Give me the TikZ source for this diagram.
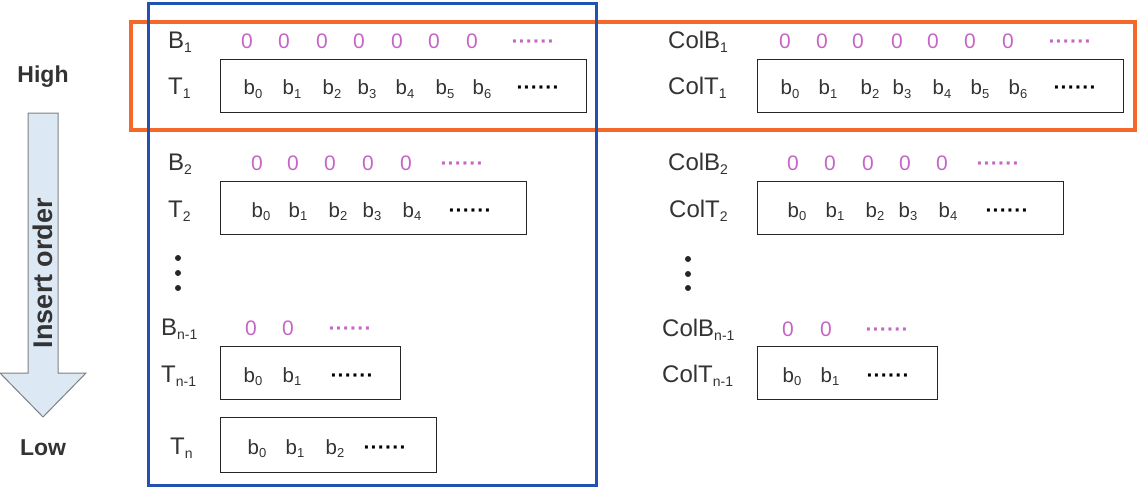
\documentclass[tikz,border=0pt]{standalone}
\usepackage{fontspec}
\setmainfont{Liberation Sans}
\definecolor{txt}{HTML}{333333}
\definecolor{zpink}{HTML}{C565C5}
\definecolor{bluebox}{HTML}{2351B0}
\definecolor{orangebox}{HTML}{F5682A}
\definecolor{arrowfill}{HTML}{DDE8F5}
\definecolor{arrowline}{HTML}{808080}
\newcommand\lsub[1]{\raisebox{-4pt}{\fontsize{14}{14}\selectfont #1}}
\newcommand\bsub[1]{\raisebox{-3.5pt}{\fontsize{13}{13}\selectfont #1}}
\newcommand\onedot{\makebox[7.2pt]{·}}
\newcommand\sixdots{\onedot\onedot\onedot\onedot\onedot\onedot}
\tikzset{
  lbl/.style={anchor=base west, inner sep=0pt, text=txt, font=\fontsize{24}{28}\selectfont},
  zero/.style={anchor=base, inner sep=0pt, text=zpink, font=\fontsize{21}{25}\selectfont},
  bit/.style={anchor=base, inner sep=0pt, text=txt, font=\fontsize{20.5}{24}\selectfont},
  pdots/.style={anchor=base, inner sep=0pt, text=zpink, font=\bfseries\fontsize{21}{25}\selectfont},
  tdots/.style={anchor=base, inner sep=0pt, text=black, font=\bfseries\fontsize{21}{25}\selectfont},
  cell/.style={draw=black!85, line width=1.3pt, anchor=north west, inner sep=0pt},
  hilabel/.style={inner sep=0pt, text=txt, font=\bfseries\fontsize{23}{27}\selectfont},
}
\begin{document}
\begin{tikzpicture}[x=1pt,y=-1pt]
\useasboundingbox (0,0) rectangle (1141,487);
% arrow
\draw[fill=arrowfill, draw=arrowline, line width=1pt]
  (28,113) -- (58,113) -- (58,373) -- (86,373) -- (43,417) -- (0,373) -- (28,373) -- cycle;
\node[hilabel] (high) at (43,77) {High};
\node[hilabel] (low) at (43,448) {Low};
\node[hilabel, rotate=90, font=\bfseries\fontsize{27}{30}\selectfont] (ins) at (43,273) {Insert order};

% ---- left column
\node[lbl] (B1) at (168,49) {B\lsub{1}};
\foreach \x [count=\i] in {247,284,322,359,397,434,472} \node[zero] (lz1\i) at (\x,49) {0};
\node[pdots] (lzd1) at (533,49) {\sixdots};
\node[lbl] (T1) at (168,95) {T\lsub{1}};
\node[cell, minimum width=366pt, minimum height=53pt] (T1box) at (220,59) {};
\foreach \x/\s [count=\i] in {253/0,292/1,332/2,367/3,405/4,445/5,482/6} \node[bit] (lb1\i) at (\x,95) {b\bsub{\s}};
\node[tdots] (lbd1) at (538,95) {\sixdots};

\node[lbl] (B2) at (168,170) {B\lsub{2}};
\foreach \x [count=\i] in {257,293,330,368,406} \node[zero] (lz2\i) at (\x,170) {0};
\node[pdots] (lzd2) at (462,170) {\sixdots};
\node[lbl] (T2) at (168,217) {T\lsub{2}};
\node[cell, minimum width=306pt, minimum height=53pt] (T2box) at (220,181) {};
\foreach \x/\s [count=\i] in {261/0,298/1,338/2,372/3,412/4} \node[bit] (lb2\i) at (\x,217) {b\bsub{\s}};
\node[tdots] (lbd2) at (470,217) {\sixdots};

\foreach \y in {258,273,288} \fill[black!85] (178,\y) circle (3pt);

\node[lbl] (Bn1) at (161,335) {B\lsub{n-1}};
\foreach \x [count=\i] in {251,288} \node[zero] (lz3\i) at (\x,335) {0};
\node[pdots] (lzd3) at (350,335) {\sixdots};
\node[lbl] (Tn1) at (161,382) {T\lsub{n-1}};
\node[cell, minimum width=180pt, minimum height=53pt] (Tn1box) at (220,346) {};
\foreach \x/\s [count=\i] in {253/0,292/1} \node[bit] (lb3\i) at (\x,382) {b\bsub{\s}};
\node[tdots] (lbd3) at (352,382) {\sixdots};

\node[lbl] (Tn) at (170,454) {T\lsub{n}};
\node[cell, minimum width=216pt, minimum height=55pt] (Tnbox) at (220,417) {};
\foreach \x/\s [count=\i] in {257/0,295/1,335/2} \node[bit] (lb4\i) at (\x,454) {b\bsub{\s}};
\node[tdots] (lbd4) at (385,454) {\sixdots};

% ---- right column
\node[lbl] (CB1) at (668,49) {ColB\lsub{1}};
\foreach \x [count=\i] in {785,822,858,897,933,970,1008} \node[zero] (rz1\i) at (\x,49) {0};
\node[pdots] (rzd1) at (1070,49) {\sixdots};
\node[lbl] (CT1) at (668,95) {ColT\lsub{1}};
\node[cell, minimum width=366pt, minimum height=53pt] (CT1box) at (757,59) {};
\foreach \x/\s [count=\i] in {790/0,828/1,870/2,902/3,942/4,980/5,1018/6} \node[bit] (rb1\i) at (\x,95) {b\bsub{\s}};
\node[tdots] (rbd1) at (1075,95) {\sixdots};

\node[lbl] (CB2) at (668,170) {ColB\lsub{2}};
\foreach \x [count=\i] in {793,830,868,905,942} \node[zero] (rz2\i) at (\x,170) {0};
\node[pdots] (rzd2) at (998,170) {\sixdots};
\node[lbl] (CT2) at (669,217) {ColT\lsub{2}};
\node[cell, minimum width=306pt, minimum height=53pt] (CT2box) at (757,181) {};
\foreach \x/\s [count=\i] in {797/0,835/1,875/2,908/3,948/4} \node[bit] (rb2\i) at (\x,217) {b\bsub{\s}};
\node[tdots] (rbd2) at (1007,217) {\sixdots};

\foreach \y in {259,274,288} \fill[black!85] (688,\y) circle (3pt);

\node[lbl] (CBn1) at (662,336) {ColB\lsub{n-1}};
\foreach \x [count=\i] in {788,826} \node[zero] (rz3\i) at (\x,336) {0};
\node[pdots] (rzd3) at (887,336) {\sixdots};
\node[lbl] (CTn1) at (662,382) {ColT\lsub{n-1}};
\node[cell, minimum width=180pt, minimum height=53pt] (CTn1box) at (757,346) {};
\foreach \x/\s [count=\i] in {792/0,830/1} \node[bit] (rb3\i) at (\x,382) {b\bsub{\s}};
\node[tdots] (rbd3) at (888,382) {\sixdots};

% ---- highlight frames
\draw[orangebox, line width=4pt] (131,22) rectangle (1135,130);
\draw[bluebox, line width=3pt] (148,4) rectangle (596,485);
\end{tikzpicture}
\end{document}
